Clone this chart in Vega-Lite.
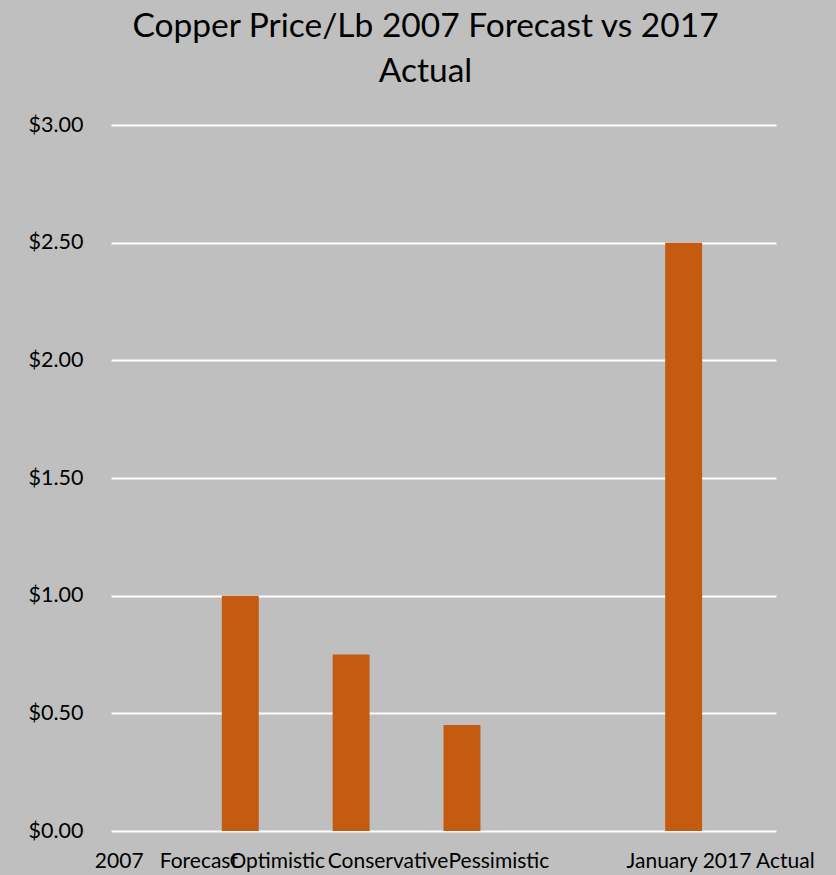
{
  "$schema": "https://vega.github.io/schema/vega-lite/v6.json",
  "width": 665,
  "height": 706,
  "autosize": {"type": "none"},
  "padding": {"left": 111, "top": 125, "right": 60, "bottom": 44},
  "background": "#BFBFBF",
  "title": {
    "text": ["Copper Price/Lb 2007 Forecast vs 2017", "Actual"],
    "font": "Lato",
    "fontSize": 33.5,
    "fontWeight": "normal",
    "color": "#000000",
    "anchor": "middle",
    "dx": -18,
    "offset": 25,
    "lineHeight": 45
  },
  "config": {
    "view": {"stroke": null},
    "axis": {"labelFont": "Lato", "labelFontSize": 21, "labelColor": "#000000", "labelLimit": 0}
  },
  "data": {
    "values": [
      {"category": "Optimistic", "series": "a", "price": 1.0},
      {"category": "Conservative", "series": "a", "price": 0.75},
      {"category": "Pessimistic", "series": "a", "price": 0.45},
      {"category": "January 2017 Actual", "series": "a", "price": 2.5}
    ]
  },
  "mark": {"type": "bar", "color": "#C55A11"},
  "encoding": {
    "x": {
      "field": "category",
      "type": "nominal",
      "sort": null,
      "scale": {
        "domain": ["2007\u00a0\u00a0\u00a0Forecast", "Optimistic", "Conservative", "Pessimistic", " ", "January 2017 Actual"],
        "paddingInner": 0,
        "paddingOuter": 0
      },
      "axis": {
        "title": null,
        "labelAngle": 0,
        "ticks": false,
        "domain": false,
        "labelPadding": 19,
        "labelOverlap": false,
        "labelBound": false
      }
    },
    "xOffset": {
      "field": "series",
      "type": "nominal",
      "scale": {"domain": ["a", "b", "c"], "paddingInner": 0, "paddingOuter": 0}
    },
    "y": {
      "field": "price",
      "type": "quantitative",
      "scale": {"domain": [0, 3]},
      "axis": {
        "title": null,
        "format": "$.2f",
        "values": [0, 0.5, 1, 1.5, 2, 2.5, 3],
        "ticks": false,
        "domain": false,
        "grid": true,
        "gridColor": "#FFFFFF",
        "gridWidth": 2,
        "gridOpacity": 1,
        "labelFontSize": 21.5,
        "labelPadding": 28
      }
    }
  }
}
